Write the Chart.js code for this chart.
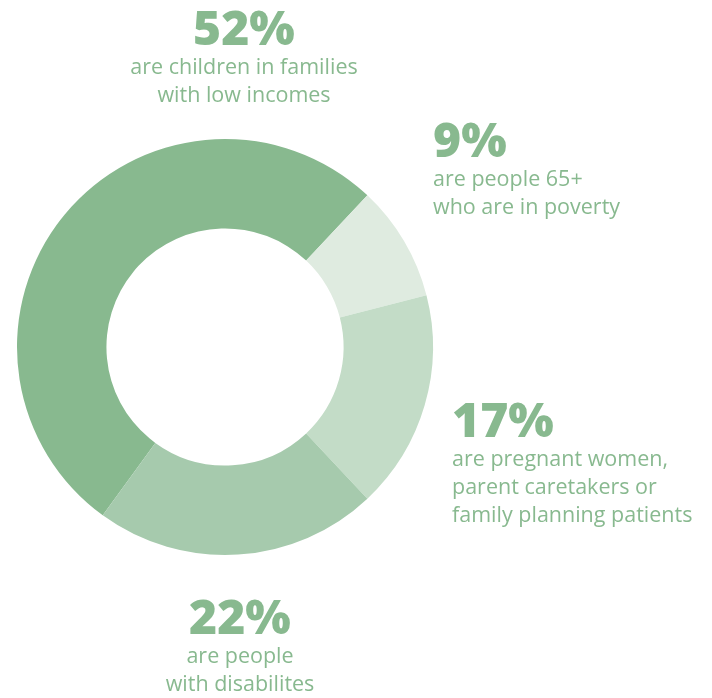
<!DOCTYPE html>
<html>
<head>
<meta charset="utf-8">
<script src="https://cdn.jsdelivr.net/npm/chart.js@4"></script>
<style>
  html, body { margin: 0; padding: 0; background: #fff; }
  #wrap { position: relative; width: 712px; height: 698px; }
</style>
</head>
<body>
<div id="wrap"><canvas id="chart" width="712" height="698"></canvas></div>
<script>
// data
const categories = [
    "children in families with low incomes",
    "people 65+ in poverty",
    "pregnant women, parent caretakers, family planning patients",
    "people with disabilities"
];
const shares = [52, 9, 17, 22];
const descriptions = [
    ["are children in families", "with low incomes"],
    ["are people 65+", "who are in poverty"],
    ["are pregnant women,", "parent caretakers or", "family planning patients"],
    ["are people", "with disabilites"]
];
const colors = ["#88b98f", "#dfebe0", "#c3dcc7", "#a6caad"];

// where each label block sits: x, top of the big number, alignment
const labelPlacement = [
    { x: 244, y: 5, align: "center" },
    { x: 433, y: 117, align: "left" },
    { x: 452, y: 397, align: "left" },
    { x: 240, y: 594, align: "center" }
];

const textColor = "#88b98f";

const labelsPlugin = {
    id: "shareLabels",
    afterDraw(chart) {
        const ctx = chart.ctx;
        ctx.save();
        ctx.fillStyle = textColor;
        ctx.textBaseline = "alphabetic";
        shares.forEach((v, i) => {
            const p = labelPlacement[i];
            ctx.textAlign = p.align;
            ctx.font = "800 48px 'Open Sans'";
            ctx.fillText(v + "%", p.x, p.y + 40);
            ctx.font = "400 21.5px 'Open Sans'";
            descriptions[i].forEach((line, j) => {
                ctx.fillText(line, p.x, p.y + 69 + j * 28);
            });
        });
        ctx.restore();
    }
};

new Chart(document.getElementById("chart"), {
    type: "doughnut",
    data: {
        labels: categories,
        datasets: [{
            data: shares,
            backgroundColor: colors,
            borderWidth: 0,
            hoverOffset: 0
        }]
    },
    options: {
        responsive: false,
        animation: false,
        events: [],
        rotation: 216,
        cutout: "57%",
        layout: {
            padding: { left: 17, right: 279, top: 139, bottom: 143 }
        },
        plugins: {
            legend: { display: false },
            tooltip: { enabled: false }
        }
    },
    plugins: [labelsPlugin]
});
</script>
</body>
</html>
